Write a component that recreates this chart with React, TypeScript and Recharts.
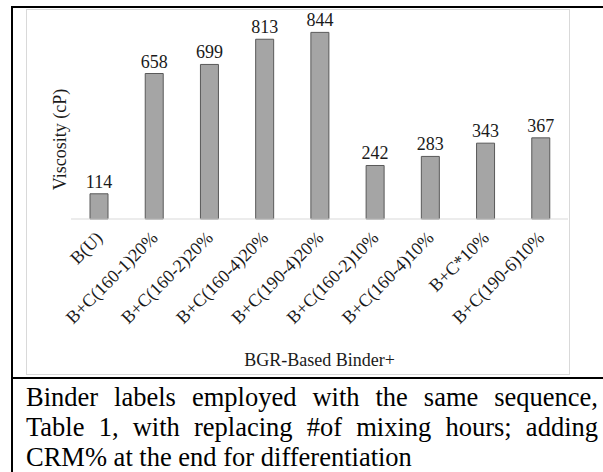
import { BarChart, Bar, XAxis, YAxis, LabelList } from "recharts";

// binder labels, left to right
const categories = [
  "B(U)",
  "B+C(160-1)20%",
  "B+C(160-2)20%",
  "B+C(160-4)20%",
  "B+C(190-4)20%",
  "B+C(160-2)10%",
  "B+C(160-4)10%",
  "B+C*10%",
  "B+C(190-6)10%",
];
// viscosity values (cP)
const viscosity = [114, 658, 699, 813, 844, 242, 283, 343, 367];

const captionLines = [
  "Binder labels employed with the same sequence,",
  "Table 1, with replacing #of mixing hours; adding",
  "CRM% at the end for differentiation",
];

const SERIF = "Liberation Serif";
const TEXT = "#1a1a1a";
const FS = 18;

const data = categories.map((name, i) => ({ name, viscosity: viscosity[i] }));

// rotated x tick, end of text sits at the tick
const RotatedTick = ({ x, y, payload }: any) => (
  <g transform={`translate(${x + 5},${y + 12})`}>
    <text
      textAnchor="end"
      transform="rotate(-45)"
      fontSize={FS}
      fontFamily={SERIF}
      fill={TEXT}
    >
      {payload.value}
    </text>
  </g>
);

const YTitle = (props: any) => {
  const vb = props.viewBox;
  const cx = vb.x + 33;
  const cy = vb.y + vb.height / 2 + 20;
  return (
    <text
      x={cx}
      y={cy}
      transform={`rotate(-90 ${cx} ${cy})`}
      textAnchor="middle"
      dominantBaseline="central"
      fontSize={FS}
      fontFamily={SERIF}
      fill={TEXT}
    >
      Viscosity (cP)
    </text>
  );
};

export default function App() {
  return (
    <div
      style={{
        position: "absolute",
        left: 0,
        top: 0,
        width: 603,
        height: 472,
        background: "#fff",
        overflow: "hidden",
        fontFamily: SERIF,
      }}
    >
      {/* table frame */}
      <div style={{ position: "absolute", left: 11, top: 6, width: 592, height: 2, background: "#000" }} />
      <div style={{ position: "absolute", left: 11, top: 6, width: 2, height: 466, background: "#000" }} />
      <div style={{ position: "absolute", left: 11, top: 377, width: 592, height: 2, background: "#000" }} />

      {/* chart area */}
      <div
        style={{
          position: "absolute",
          left: 26,
          top: 9,
          width: 544,
          height: 366,
          border: "1px solid #D9D9D9",
          boxSizing: "border-box",
        }}
      >
        <BarChart
          width={542}
          height={364}
          data={data}
          margin={{ top: 10, right: 1, left: 0, bottom: 0 }}
        >
          <XAxis
            dataKey="name"
            interval={0}
            height={155}
            tickLine={false}
            axisLine={{ stroke: "#D9D9D9" }}
            tick={<RotatedTick />}
            label={{
              value: "BGR-Based Binder+",
              position: "insideBottom",
              offset: 8,
              fontSize: FS,
              fontFamily: SERIF,
              fill: TEXT,
            }}
          />
          <YAxis
            width={44}
            domain={[0, 900]}
            tick={false}
            tickLine={false}
            axisLine={false}
            label={{ content: (p: any) => <YTitle {...p} /> }}
          />
          <Bar
            dataKey="viscosity"
            barSize={18}
            fill="#A5A5A5"
            stroke="#595959"
            strokeWidth={1}
            isAnimationActive={false}
          >
            <LabelList
              dataKey="viscosity"
              position="top"
              offset={6}
              fontSize={FS}
              fontFamily={SERIF}
              fill={TEXT}
            />
          </Bar>
        </BarChart>
      </div>

      {/* caption */}
      <div
        style={{
          position: "absolute",
          left: 26,
          top: 382,
          width: 572,
          fontSize: 26.5,
          lineHeight: "30px",
          color: "#000",
        }}
      >
        {captionLines.map((line, i) => (
          <div
            key={i}
            style={{
              textAlign: i < captionLines.length - 1 ? "justify" : "left",
              textAlignLast: i < captionLines.length - 1 ? "justify" : "left",
              whiteSpace: "nowrap",
            }}
          >
            {line}
          </div>
        ))}
      </div>
    </div>
  );
}
